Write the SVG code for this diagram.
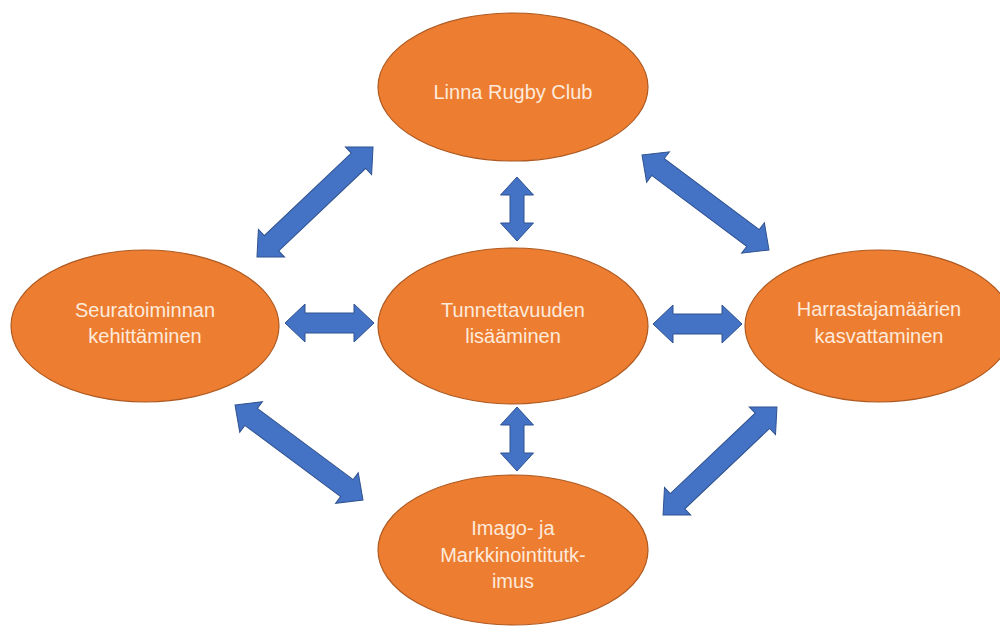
<svg xmlns="http://www.w3.org/2000/svg" width="1000" height="626" viewBox="0 0 1000 626">
<style>
.node{fill:#ed7d31;stroke:#ae5a21;stroke-width:1.2}
.lbl{font-family:"Liberation Sans",Arial,sans-serif;font-size:20px;fill:#fdeadb;text-anchor:middle}
.arr{fill:#4472c4;stroke:#2f528f;stroke-width:1}
</style>
<rect width="1000" height="626" fill="#ffffff"/>
<g id="connectors">
<polygon class="arr" transform="translate(329.5,323)" points="-44.5,0 -24.5,-19 -24.5,-10 24.5,-10 24.5,-19 44.5,0 24.5,19 24.5,10 -24.5,10 -24.5,19"/>
<polygon class="arr" transform="translate(697.5,324)" points="-44.5,0 -24.5,-19 -24.5,-10 24.5,-10 24.5,-19 44.5,0 24.5,19 24.5,10 -24.5,10 -24.5,19"/>
<polygon class="arr" transform="translate(517,209) rotate(90)" points="-32,0 -14,-16.5 -14,-7 14,-7 14,-16.5 32,0 14,16.5 14,7 -14,7 -14,16.5"/>
<polygon class="arr" transform="translate(517,439) rotate(90)" points="-32,0 -14,-16.5 -14,-7 14,-7 14,-16.5 32,0 14,16.5 14,7 -14,7 -14,16.5"/>
<polygon class="arr" transform="translate(315,202) rotate(-43.5)" points="-80,0 -60,-19 -60,-10.5 60,-10.5 60,-19 80,0 60,19 60,10.5 -60,10.5 -60,19"/>
<polygon class="arr" transform="translate(705.5,202.5) rotate(36.8)" points="-79.3,0 -59.3,-19 -59.3,-10.5 59.3,-10.5 59.3,-19 79.3,0 59.3,19 59.3,10.5 -59.3,10.5 -59.3,19"/>
<polygon class="arr" transform="translate(299,452.5) rotate(36.6)" points="-79.7,0 -59.7,-19 -59.7,-10.5 59.7,-10.5 59.7,-19 79.7,0 59.7,19 59.7,10.5 -59.7,10.5 -59.7,19"/>
<polygon class="arr" transform="translate(720,461) rotate(-43.5)" points="-78.5,0 -58.5,-19 -58.5,-10.5 58.5,-10.5 58.5,-19 78.5,0 58.5,19 58.5,10.5 -58.5,10.5 -58.5,19"/>
</g>
<g id="node-linna">
<ellipse class="node" cx="513" cy="87" rx="135" ry="74"/>
<text class="lbl" x="513" y="99">Linna Rugby Club</text>
</g>
<g id="node-seura">
<ellipse class="node" cx="145" cy="326" rx="134" ry="76"/>
<text class="lbl" x="145" y="317">Seuratoiminnan</text>
<text class="lbl" x="145" y="343">kehittäminen</text>
</g>
<g id="node-tunnettavuus">
<ellipse class="node" cx="513" cy="326" rx="135" ry="78"/>
<text class="lbl" x="513" y="317">Tunnettavuuden</text>
<text class="lbl" x="513" y="343">lisääminen</text>
</g>
<g id="node-harrastaja">
<ellipse class="node" cx="879" cy="326" rx="134" ry="76"/>
<text class="lbl" x="879" y="316">Harrastajamäärien</text>
<text class="lbl" x="879" y="343">kasvattaminen</text>
</g>
<g id="node-imago">
<ellipse class="node" cx="513" cy="550" rx="135" ry="75"/>
<text class="lbl" x="513" y="535">Imago- ja</text>
<text class="lbl" x="513" y="562">Markkinointitutk-</text>
<text class="lbl" x="513" y="588">imus</text>
</g>
</svg>
